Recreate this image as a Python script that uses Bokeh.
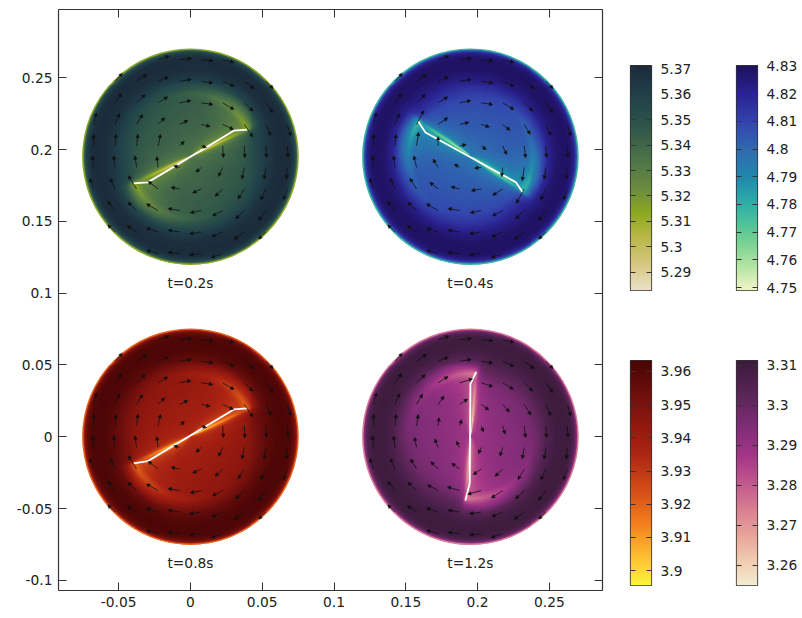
import numpy as np
from bokeh.plotting import figure
from bokeh.layouts import row, column
from bokeh.models import (LinearColorMapper, FixedTicker, LinearAxis, Label, Arrow, NormalHead,
                          ColumnDataSource, Range1d, Title)
from bokeh.core.properties import value
from bokeh.embed import file_html
from bokeh.resources import INLINE

FONT = "DejaVu Sans"
INK = "#222222"
FS = "13.8px"

panel_labels = ["t=0.2s", "t=0.4s", "t=0.8s", "t=1.2s"]
center_x = [0.0, 0.195, 0.0, 0.195]
center_y = [0.195, 0.195, 0.0, 0.0]
disk_radius = 0.075
tip_angle_deg = [25.4, -34.3, 25.4, 85.0]

# colour-scale ends, units of 1e16 1/m^3
scale_low = [5.2828, 4.7490, 3.8955, 3.2549]
scale_high = [5.3713, 4.8301, 3.9633, 3.31125]
scale_ticks = [
    [5.29, 5.30, 5.31, 5.32, 5.33, 5.34, 5.35, 5.36, 5.37],
    [4.75, 4.76, 4.77, 4.78, 4.79, 4.80, 4.81, 4.82, 4.83],
    [3.90, 3.91, 3.92, 3.93, 3.94, 3.95, 3.96],
    [3.26, 3.27, 3.28, 3.29, 3.30, 3.31],
]
scale_tick_labels = [
    ["5.29", "5.3", "5.31", "5.32", "5.33", "5.34", "5.35", "5.36", "5.37"],
    ["4.75", "4.76", "4.77", "4.78", "4.79", "4.8", "4.81", "4.82", "4.83"],
    ["3.9", "3.91", "3.92", "3.93", "3.94", "3.95", "3.96"],
    ["3.26", "3.27", "3.28", "3.29", "3.3", "3.31"],
]

# colour stops from the top of each bar (0) to its bottom (1)
stops_pos = [
    [0, .12, .25, .40, .55, .66, .76, .88, 1],
    [0, .12, .25, .38, .50, .62, .75, .88, 1],
    [0, .15, .30, .42, .60, .72, .85, .93, 1],
    [0, .15, .30, .42, .55, .68, .80, .90, 1],
]
stops_col = [
    ["#1b2a3a", "#20404a", "#2c5249", "#4a7049", "#6b8c3e", "#8fa91e", "#b8b746", "#d5c67c", "#ebe0c8"],
    ["#1f1160", "#2a2290", "#3344ac", "#2e6cb0", "#2288ad", "#2fb0a6", "#64cb92", "#a9e29f", "#f0f5c6"],
    ["#4a0505", "#6f0f0d", "#96190f", "#ae2614", "#d95418", "#f47c1c", "#fdb42f", "#fed435", "#fdf53c"],
    ["#3c1b3d", "#5b2558", "#832d79", "#a33586", "#c25a8d", "#dc8593", "#eaab9d", "#f1cdb3", "#f1ecd1"],
]

# shade level (0 = top of bar, 1 = bottom) read around the disk,
# r/R down the rows, degrees behind the blade tip across the columns
level_r = [0, .10, .20, .30, .40, .52, .58, .65, .72, .80, .88, .93, .965, .985, 1.0]
level_phi = [0, 3, 8, 15, 30, 50, 75, 105, 135, 160, 172, 177]
levels = [
    [1.0, .82, .66, .58, .50, .45, .43, .43, .45, .50, .58, .80],
    [.95, .75, .62, .54, .44, .40, .38, .38, .40, .45, .54, .75],
    [.88, .70, .57, .49, .40, .36, .35, .34, .35, .40, .48, .68],
    [.80, .64, .53, .46, .38, .34, .33, .32, .32, .36, .43, .58],
    [.72, .60, .50, .44, .37, .33, .31, .30, .30, .32, .38, .48],
    [.55, .55, .50, .46, .40, .33, .29, .27, .26, .27, .30, .38],
    [.62, .64, .62, .58, .50, .38, .30, .24, .22, .20, .22, .30],
    [.30, .32, .36, .38, .34, .26, .20, .17, .15, .13, .14, .20],
    [.12, .12, .13, .14, .13, .11, .09, .08, .08, .07, .08, .10],
    [.03, .03, .03, .03, .03, .03, .02, .02, .02, .02, .02, .03],
    [.01, .01, .01, .01, .01, .01, .01, .01, .01, .01, .01, .01],
    [.03, .03, .03, .03, .03, .03, .03, .03, .03, .03, .03, .03],
    [.12, .12, .12, .12, .12, .12, .12, .12, .12, .12, .12, .12],
    [.30, .30, .30, .30, .30, .30, .30, .30, .30, .30, .30, .30],
    [.65, .65, .65, .65, .65, .65, .65, .65, .65, .65, .65, .65],
]

# blade centre lines relative to the disk centre, metres
blade_x = [[-.0395, -.0297, .0302, .0395], [-.0364, -.0313, .0318, .0364],
           [-.0395, -.0297, .0302, .0395], [.0040, 0.0, -.0005, -.0035]]
blade_y = [[-.0186, -.0179, .0181, .0188], [.0246, .0169, -.0179, -.0248],
           [-.0185, -.0170, .0190, .0198], [.0452, .0367, -.0324, -.0445]]

# arrows: rows of the sample lattice, vectors in thirds of a pixel
row_y = [.0675, .0525, .0375, .0225, .0075, -.0075, -.0225, -.0375, -.0525, -.0675]
row_xmax = [.0225, .0525, .0525, .0675, .0675, .0675, .0675, .0525, .0525, .0225]
base_vec = [
    [(33, 11), (36, 4), (36, -3), (34, -8)],
    [(22, 24), (30, 21), (31, 13), (35, 6), (35, -5), (34, -15), (30, -22), (22, -22)],
    [(20, 28), (26, 25), (29, 18), (34, 7), (35, -5), (34, -20), (26, -25), (21, -29)],
    [(9, 35), (14, 33), (18, 30), (20, 20), (25, 12), (27, -6), (32, -15), (26, -38), (15, -34), (10, -35)],
    [(0, 35), (3, 35), (4, 35), (7, 35), (14, 14), (16, -5), (2, -35), (2, -36), (2, -35), (2, -34)],
    [(-3, 35), (-4, 35), (-5, 35), (-4, 33), (-18, 5), (-16, -14), (-13, -27), (-7, -35), (-5, -35), (-3, -35)],
    [(-11, 32), (-14, 32), (-25, 40), (-30, 23), (-26, 5), (-26, -12), (-23, -22), (-19, -30), (-15, -33), (-12, -33)],
    [(-22, 28), (-26, 25), (-35, 20), (-35, 6), (-33, -7), (-31, -16), (-26, -25), (-22, -30)],
    [(-22, 22), (-28, 19), (-35, 12), (-35, 6), (-35, -5), (-33, -14), (-30, -22), (-22, -21)],
    [(-35, 10), (-35, 4), (-35, -4), (-35, -12)],
]
# lattice points whose vector differs in a panel: (x mm*10, y mm*10) -> vector
changes_04 = {
    (-375, 225): (22, 42), (-225, 225): (29, 20), (-75, 225): (28, 6), (75, 225): (25, -8), (225, 225): (22, -18), (375, 225): (18, -30),
    (-375, 75): (6, 41), (-225, 75): (0, 28), (-75, 75): (20, 4), (75, 75): (15, -11), (225, 75): (12, -26), (375, 75): (4, -36),
    (-375, -75): (-8, 35), (-225, -75): (-15, 25), (-75, -75): (-16, 10), (75, -75): (-20, -2), (225, -75): (-3, -28), (375, -75): (-6, -40),
    (-375, -225): (-20, 32), (-225, -225): (-25, 20), (-75, -225): (-26, 7), (75, -225): (-30, -5), (225, -225): (-30, -19), (375, -225): (-24, -43),
}
changes_12 = {
    (-225, 375): (30, 19), (-75, 375): (39, 12), (75, 375): (35, -11), (225, 375): (32, -19),
    (-375, 225): (18, 31), (-225, 225): (18, 25), (-75, 225): (24, 16), (75, 225): (23, -17), (225, 225): (20, -23), (375, 225): (20, -32),
    (-375, 75): (5, 34), (-225, 75): (3, 25), (-75, 75): (6, 19), (75, 75): (7, -18), (225, 75): (7, -25), (375, 75): (4, -35),
    (-375, -75): (-6, 31), (-225, -75): (-10, 26), (-75, -75): (-10, 19), (75, -75): (-8, -19), (225, -75): (-8, -26), (375, -75): (-6, -34),
    (-375, -225): (-18, 30), (-225, -225): (-22, 22), (-75, -225): (-24, 17), (75, -225): (-24, -17), (225, -225): (-23, -22), (375, -225): (-19, -32),
    (-225, -375): (-32, 17), (-75, -375): (-37, 11), (75, -375): (-41, -11), (225, -375): (-34, -22),
}
panel_changes = [{}, changes_04, {}, changes_12]

x_ticks = [-.05, 0, .05, .1, .15, .2, .25]
x_tick_labels = ["-0.05", "0", "0.05", "0.1", "0.15", "0.2", "0.25"]
y_ticks = [-.1, -.05, 0, .05, .1, .15, .2, .25]
y_tick_labels = ["-0.1", "-0.05", "0", "0.05", "0.1", "0.15", "0.2", "0.25"]

X_RANGE = (-.0919, .2870)
Y_RANGE = (-.1071, .2975)
PX = 1435.7
N_SHADE = 216


def palette_for(i, n=256):
    pos = np.array(stops_pos[i])
    rgb = np.array([[int(c[j:j + 2], 16) for j in (1, 3, 5)] for c in stops_col[i]], float)
    t = np.linspace(1, 0, n)
    chans = [np.interp(t, pos, rgb[:, k]) for k in range(3)]
    return ["#%02x%02x%02x" % (int(round(a)), int(round(b)), int(round(c))) for a, b, c in zip(*chans)]


def shade(i):
    lv = np.array(levels)
    lv = np.hstack([lv, lv[:, :1]])
    phi_nodes = np.array(level_phi + [180.0], float)
    r_nodes = np.array(level_r, float)
    e = np.linspace(-1, 1, N_SHADE + 1)
    c = .5 * (e[1:] + e[:-1])
    xx, yy = np.meshgrid(c, c)
    rr = np.hypot(xx, yy)
    ph = (np.degrees(np.arctan2(yy, xx)) - tip_angle_deg[i]) % 180.0
    ri = np.clip(np.searchsorted(r_nodes, rr) - 1, 0, len(r_nodes) - 2)
    pi = np.clip(np.searchsorted(phi_nodes, ph) - 1, 0, len(phi_nodes) - 2)
    fr = np.clip((rr - r_nodes[ri]) / (r_nodes[ri + 1] - r_nodes[ri]), 0, 1)
    fp = np.clip((ph - phi_nodes[pi]) / (phi_nodes[pi + 1] - phi_nodes[pi]), 0, 1)
    L = (lv[ri, pi] * (1 - fr) * (1 - fp) + lv[ri + 1, pi] * fr * (1 - fp)
         + lv[ri, pi + 1] * (1 - fr) * fp + lv[ri + 1, pi + 1] * fr * fp)
    out = scale_high[i] - L * (scale_high[i] - scale_low[i])
    out[rr > 1] = np.nan
    return out


p = figure(width=608, height=610, output_backend="svg", toolbar_location=None,
           x_range=Range1d(*X_RANGE), y_range=Range1d(*Y_RANGE),
           frame_width=544, frame_height=581, min_border_left=58, min_border_right=6,
           min_border_top=9, min_border_bottom=20, background_fill_color="white")
p.grid.visible = False
p.outline_line_color = None


def style_axis(ax, ticks, labels, font=FS, tick_in=8, standoff=6):
    ax.ticker = FixedTicker(ticks=ticks)
    ax.major_label_overrides = {t: l for t, l in zip(ticks, labels)}
    ax.major_tick_in = tick_in
    ax.major_tick_out = 0
    ax.minor_tick_in = 0
    ax.minor_tick_out = 0
    ax.minor_tick_line_color = None
    ax.axis_line_color = "#333333"
    ax.axis_line_width = 1.2
    ax.major_tick_line_color = "#333333"
    ax.major_tick_line_width = 1
    ax.major_label_text_font = FONT
    ax.major_label_text_font_size = font
    ax.major_label_text_color = INK
    ax.major_label_standoff = standoff


style_axis(p.xaxis[0], x_ticks, x_tick_labels)
style_axis(p.yaxis[0], y_ticks, y_tick_labels)
top_axis = LinearAxis()
style_axis(top_axis, x_ticks, [""] * len(x_ticks), standoff=0)
right_axis = LinearAxis()
style_axis(right_axis, y_ticks, [""] * len(y_ticks), standoff=0)
p.add_layout(top_axis, "above")
p.add_layout(right_axis, "right")

mappers = []
for i in range(4):
    pal = palette_for(i)
    m = LinearColorMapper(palette=pal, low=scale_low[i], high=scale_high[i], nan_color="rgba(0,0,0,0)")
    mappers.append(m)
    p.image(image=[shade(i)], x=center_x[i] - disk_radius, y=center_y[i] - disk_radius,
            dw=2 * disk_radius, dh=2 * disk_radius, color_mapper=m)
    edge_level = levels[-1][0]
    edge_val = scale_high[i] - edge_level * (scale_high[i] - scale_low[i])
    edge_idx = int((edge_val - scale_low[i]) / (scale_high[i] - scale_low[i]) * 255)
    p.circle(x=[center_x[i]], y=[center_y[i]], radius=disk_radius, fill_color=None,
             line_color=pal[edge_idx], line_width=1.2)
    p.line([center_x[i] + v for v in blade_x[i]], [center_y[i] + v for v in blade_y[i]],
           line_color="white", line_width=1.8)
    x0, y0, x1, y1 = [], [], [], []
    for ry, xm, vecs in zip(row_y, row_xmax, base_vec):
        n = len(vecs)
        xs = np.linspace(-xm, xm, n)
        for x, v in zip(xs, vecs):
            key = (int(round(x * 1e4)), int(round(ry * 1e4)))
            dx, dy = panel_changes[i].get(key, v)
            x0.append(center_x[i] + x)
            y0.append(center_y[i] + ry)
            x1.append(center_x[i] + x + dx / (3 * PX))
            y1.append(center_y[i] + ry + dy / (3 * PX))
    src = ColumnDataSource(dict(x0=x0, y0=y0, x1=x1, y1=y1))
    p.add_layout(Arrow(end=NormalHead(size=3.5, fill_color="#111111", line_color="#111111", line_width=.5),
                       x_start="x0", y_start="y0", x_end="x1", y_end="y1", source=src,
                       line_color="#111111", line_width=.8))

label_y = [.1072, .1072, -.0877, -.0877]
p.text(x=center_x, y=label_y, text=panel_labels, text_font=value(FONT), text_font_size=value(FS),
       text_color=INK, text_align="center", text_baseline="middle")
p.add_layout(Label(x=X_RANGE[0], y=Y_RANGE[1], x_offset=-51, y_offset=-1, text="m", text_font=FONT,
                   text_font_size=FS, text_color=INK, text_baseline="middle"))
p.add_layout(Label(x=X_RANGE[1], y=Y_RANGE[0], x_offset=-8, y_offset=-15, text="m", text_font=FONT,
                   text_font_size=FS, text_color=INK, text_baseline="middle"))


def bar(i, width, height, left, top, bottom, xoff):
    f = figure(width=width, height=height, output_backend="svg", toolbar_location=None,
               x_range=Range1d(0, 1), y_range=Range1d(scale_low[i], scale_high[i]),
               frame_width=21, frame_height=225, min_border_left=left, min_border_right=width - left - 21,
               min_border_top=top, min_border_bottom=bottom, y_axis_location="right")
    f.grid.visible = False
    f.xaxis.visible = False
    f.outline_line_color = "#333333"
    f.outline_line_width = 1.2
    ramp = np.linspace(scale_low[i], scale_high[i], 225).reshape(-1, 1)
    f.image(image=[ramp], x=0, y=scale_low[i], dw=1, dh=scale_high[i] - scale_low[i], color_mapper=mappers[i])
    style_axis(f.yaxis[0], scale_ticks[i], scale_tick_labels[i], tick_in=5, standoff=9)
    left_ax = LinearAxis()
    style_axis(left_ax, scale_ticks[i], [""] * len(scale_ticks[i]), tick_in=5, standoff=0)
    left_ax.axis_line_color = None
    f.yaxis[0].axis_line_color = None
    f.add_layout(left_ax, "left")
    for txt, off in (("1/m\u00b3", 35), ("\u00d710\u00b9\u2076", 16)):
        f.add_layout(Label(x=0, y=scale_high[i], x_offset=xoff, y_offset=off, text=txt, text_font=FONT,
                           text_font_size=FS, text_color=INK, text_baseline="middle"))
    return f


a = bar(0, 104, 298, 22, 65, 8, 20)
b = bar(1, 88, 298, 24, 65, 8, 20)
c = bar(2, 104, 312, 22, 62, 25, 20)
d = bar(3, 88, 312, 24, 62, 25, 20)

page = row(p, column(row(a, b), row(c, d)))
open("out.html", "w").write(file_html(page, INLINE))
